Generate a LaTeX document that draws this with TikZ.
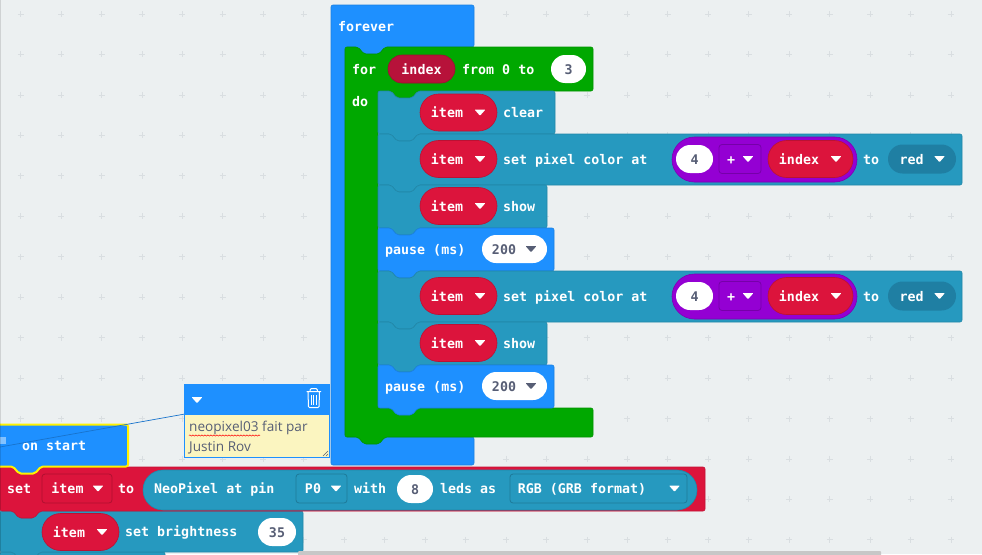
\documentclass[tikz,border=0pt]{standalone}
\usepackage{fontspec}
\setmonofont{DejaVu Sans Mono}
\setsansfont{Open Sans}
\usetikzlibrary{shapes.misc,decorations.pathmorphing}

\definecolor{workspace}{HTML}{ECF0F1}
\definecolor{gridplus}{HTML}{D9DEE1}
\definecolor{loopblue}{HTML}{1E90FF}
\definecolor{loopgreen}{HTML}{00A800}
\definecolor{pixelteal}{HTML}{2699BF}
\definecolor{darkteal}{HTML}{1F7FA3}
\definecolor{itemred}{HTML}{DC143C}
\definecolor{indexred}{HTML}{B7123A}
\definecolor{mathpurple}{HTML}{9400D3}
\definecolor{notecream}{HTML}{FBF5C0}
\definecolor{inkgrey}{HTML}{575E75}
\definecolor{selectyellow}{HTML}{FFF200}

\tikzset{
  blocktext/.style={anchor=west, inner sep=0, text=white, text height=10pt, text depth=0pt, font=\ttfamily\bfseries\fontsize{13.3}{16}\selectfont},
  pillbase/.style={rounded rectangle, inner sep=0, text height=10pt, text depth=0pt, font=\ttfamily\bfseries\fontsize{13.3}{16}\selectfont},
  itempill/.style={pillbase, fill=itemred, draw=itemred!85!black, line width=.6pt, text=white, minimum width=77pt, minimum height=37pt},
  numpill/.style={pillbase, fill=white, text=inkgrey, minimum height=28pt},
  boxdrop/.style={pillbase, rectangle, rounded corners=3pt, draw=#1!80!black, fill=#1, line width=.8pt, text=white, minimum height=29pt},
  notetext/.style={anchor=west, inner sep=0, text=inkgrey, font=\sffamily\fontsize{13.6}{16}\selectfont},
}

% x, y, width, height of a block with a notch and a bump
\newcommand{\stackblock}[5]{
  \draw[fill=#1, draw=#1!88!black, line width=.6pt, rounded corners=2pt, shift={(#2,#3)}]
    (0,0) -- (13,0) -- (19,7) -- (34,7) -- (40,0) -- (#4,0) -- (#4,#5)
    -- (40,#5) -- (34,#5+7) -- (19,#5+7) -- (13,#5) -- (0,#5) -- cycle;
}
\newcommand{\downmark}[3]{
  \fill[#3, rounded corners=.8pt] (#1-5.5,#2-3) -- (#1+5.5,#2-3) -- (#1,#2+3.2) -- cycle;
}
% one "set pixel color" row, the name comes first, then the top of the block
\newcommand{\pixelrow}[2]{
  \stackblock{pixelteal}{378}{#2}{584}{51}
  \node (#1item) at (458.5,#2+25) [itempill] {item\kern23pt};
  \downmark{480}{#2+25}{white}
  \node (#1text) at (503,#2+25) [blocktext] {set pixel color at};
  \node (#1sum) at (764.5,#2+25.5) [pillbase, fill=mathpurple, draw=mathpurple!85!black, line width=.6pt, minimum width=185pt, minimum height=45pt] {};
  \node (#1four) at (694.5,#2+25) [numpill, minimum width=37pt] {4};
  \node (#1plus) at (740,#2+25) [boxdrop=mathpurple, minimum width=42pt] {+\kern18pt};
  \downmark{748}{#2+25}{white}
  \node (#1index) at (810.5,#2+25) [itempill, minimum width=85pt] {index\kern23pt};
  \downmark{836}{#2+25}{white}
  \node (#1to) at (863,#2+25) [blocktext] {to};
  \node (#1red) at (922,#2+25) [pillbase, fill=darkteal, text=white, minimum width=68pt, minimum height=29pt] {red\kern21pt};
  \downmark{939.5}{#2+25}{white}
}
\newcommand{\showrow}[3]{
  \stackblock{pixelteal}{378}{#2}{#3}{43}
}
\newcommand{\pauserow}[2]{
  \stackblock{loopblue}{378}{#2}{176}{43}
  \node (#1text) at (385,#2+21) [blocktext] {pause (ms)};
  \node (#1num) at (514.5,#2+21) [numpill, minimum width=65pt] {200\kern21pt};
  \downmark{531}{#2+21}{inkgrey}
}

\begin{document}
\begin{tikzpicture}[x=1pt,y=-1pt]
  \path[use as bounding box, clip] (0,0) rectangle (982,554);
  \fill[workspace] (0,0) rectangle (982,554);
  \foreach \i in {-12,...,11} \foreach \j in {0,...,13}
    \draw[gridplus, line width=.8pt] ({506+40.45*\i-3},{14+40.45*\j}) -- ++(6,0) ({506+40.45*\i},{14+40.45*\j-3}) -- ++(0,6);

  % forever
  \draw[fill=loopblue, draw=loopblue!88!black, line width=.6pt, rounded corners=2pt]
    (331,5) -- (474,5) -- (474,47) -- (385,47) -- (379,54) -- (363,54) -- (357,47) -- (345,47)
    -- (345,437) -- (474,437) -- (474,465) -- (331,465) -- cycle;
  \node (forever) at (338,26) [blocktext] {forever};

  % for loop
  \draw[fill=loopgreen, draw=loopgreen!88!black, line width=.6pt, rounded corners=2pt]
    (345,47) -- (358,47) -- (364,54) -- (379,54) -- (385,47) -- (593,47) -- (593,91)
    -- (418,91) -- (412,98) -- (397,98) -- (391,91) -- (378,91) -- (378,408) -- (593,408) -- (593,437)
    -- (385,437) -- (379,444) -- (364,444) -- (358,437) -- (345,437) -- cycle;
  \node (for) at (352,69) [blocktext] {for};
  \node (index) at (421.5,69) [pillbase, fill=indexred, draw=indexred!85!black, line width=.6pt, text=white, minimum width=67pt, minimum height=28pt] {index};
  \node (from) at (462,69) [blocktext] {from 0 to};
  \node (three) at (568.5,69) [numpill, minimum width=35pt] {3};
  \node (do) at (352,101) [blocktext] {do};

  % body of the loop
  \showrow{clear}{91}{177}
  \node (clearitem) at (458.5,112.5) [itempill] {item\kern23pt};
  \downmark{480}{112.5}{white}
  \node (cleartext) at (503,112.5) [blocktext] {clear};

  \pixelrow{first}{134}

  \showrow{show}{185}{169}
  \node (showitem) at (458.5,206) [itempill] {item\kern23pt};
  \downmark{480}{206}{white}
  \node (showtext) at (503,206) [blocktext] {show};

  \pauserow{pausea}{228}

  \pixelrow{second}{271}

  \showrow{showb}{322}{169}
  \node (showbitem) at (458.5,343) [itempill] {item\kern23pt};
  \downmark{480}{343}{white}
  \node (showbtext) at (503,343) [blocktext] {show};

  \pauserow{pauseb}{365}

  % comment
  \node (notebody) at (256.5,435.5) [rectangle, fill=notecream, draw=loopblue, line width=.8pt, minimum width=145pt, minimum height=43pt, inner sep=0] {};
  \node (notehead) at (256.5,399) [rectangle, fill=loopblue, draw=loopblue, minimum width=145pt, minimum height=30pt, inner sep=0] {};
  \downmark{197}{400}{white}
  \draw[white, line width=1pt, rounded corners=1pt] (306.5,391.5) -- (321,391.5) (310,391) -- (310.5,388.5) -- (317,388.5) -- (317.5,391)
    (308,392) -- (308.5,407.5) -- (319,407.5) -- (319.5,392);
  \draw[white, line width=.8pt] (311.5,395) -- (311.5,405) (313.7,395) -- (313.7,405) (316,395) -- (316,405);
  \node (noteone) at (189,428) [notetext] {neopixel03 fait par};
  \node (notetwo) at (189,448) [notetext] {Justin Rov};
  \draw[red, line width=.5pt, decorate, decoration={snake, amplitude=.6pt, segment length=3pt}] (189,435.5) -- (260,435.5);
  \draw[inkgrey, line width=.5pt] (323,456) -- (328,451) (326,456) -- (328,454);
  \coordinate (noteicon) at (0,447);

  % on start and what follows
  \stackblock{pixelteal}{0}{552}{165}{20}
  \stackblock{pixelteal}{0}{511}{303}{41}
  \stackblock{itemred}{0}{467}{705}{44}
  \node (set) at (7,488) [blocktext] {set};
  \node (setitem) at (77,488.5) [boxdrop=itemred, minimum width=70pt] {item\kern19pt};
  \downmark{98}{488.5}{white}
  \node (setto) at (118,488) [blocktext] {to};
  \node (neopill) at (420,490) [pillbase, fill=pixelteal, draw=pixelteal!88!black, line width=.6pt, minimum width=554pt, minimum height=40pt] {};
  \node (neopixel) at (154,488) [blocktext] {NeoPixel at pin};
  \node (pin) at (321.5,488.5) [boxdrop=pixelteal, minimum width=51pt] {P0\kern17pt};
  \downmark{336}{488.5}{white}
  \node (with) at (354,488) [blocktext] {with};
  \node (leds) at (415,489) [numpill, minimum width=36pt] {8};
  \node (ledsas) at (440,488) [blocktext] {leds as};
  \node (format) at (598.5,488.5) [boxdrop=pixelteal, minimum width=177pt] {RGB (GRB format)\kern33pt};
  \downmark{674.5}{488.5}{white}
  \node (brightitem) at (80.5,532) [itempill] {item\kern23pt};
  \downmark{102}{532}{white}
  \node (brighttext) at (125,531) [blocktext] {set brightness};
  \node (brightnum) at (277,532) [numpill, minimum width=38pt] {35};

  \draw[fill=loopblue, draw=selectyellow, line width=2pt, rounded corners=2pt]
    (-3,424.5) -- (128,424.5) -- (128,466.5) -- (41,466.5) -- (35,473.5) -- (19,473.5) -- (13,466.5) -- (-3,466.5) -- cycle;
  \node (onstart) at (22,445) [blocktext] {on start};
  \fill[loopblue!55!white] (0,437) rectangle (6,444);
  \draw[loopblue!80!black, line width=.7pt] (notehead.south west) -- (noteicon);

  % left edge and scrollbar
  \fill[black, opacity=.12] (0,0) rectangle (1,554);
  \fill[black!22, rounded corners=1pt] (298,551) rectangle (881,556);
\end{tikzpicture}
\end{document}
